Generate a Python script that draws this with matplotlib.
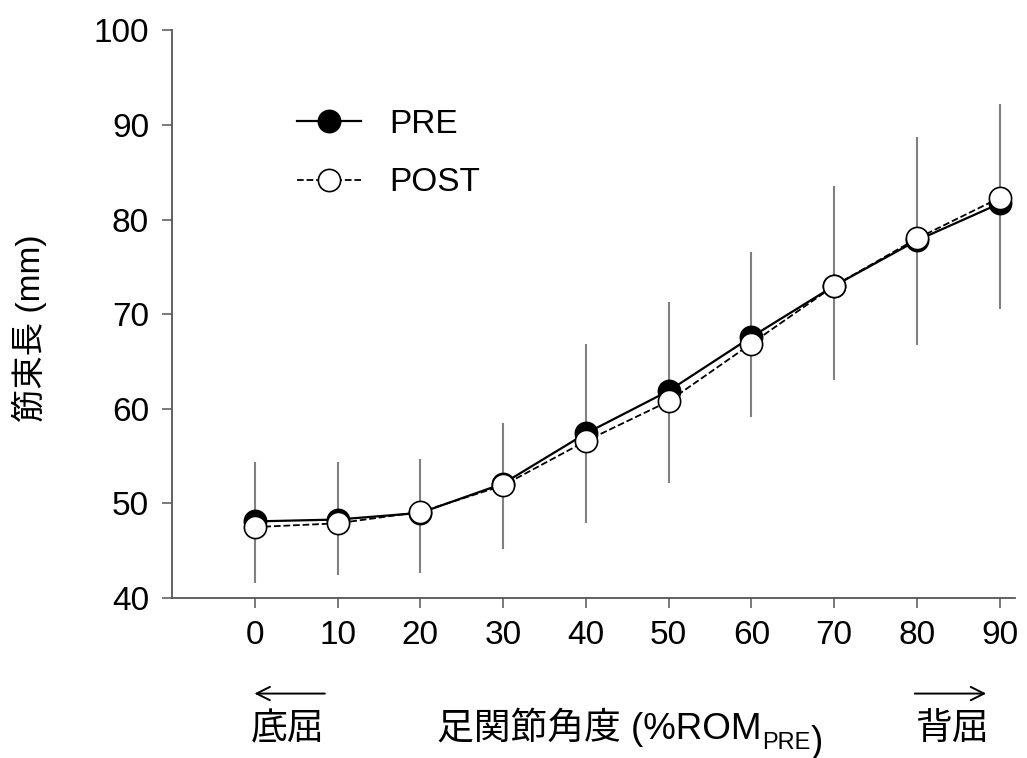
import matplotlib
matplotlib.use("Agg")
import matplotlib.pyplot as plt
from matplotlib.patches import FancyArrowPatch
from matplotlib.text import Annotation

plt.rcParams['font.family'] = ['Liberation Sans', 'Noto Sans CJK JP']

# data
angle = [0, 10, 20, 30, 40, 50, 60, 70, 80, 90]
pre = [48.1, 48.3, 49.0, 52.1, 57.4, 61.9, 67.6, 73.0, 77.8, 81.7]
post = [47.5, 47.9, 49.1, 51.9, 56.6, 60.8, 66.9, 73.0, 78.0, 82.3]
err_low = [41.6, 42.4, 42.7, 45.2, 47.9, 52.2, 59.1, 63.0, 66.7, 70.5]
err_high = [54.4, 54.4, 54.7, 58.5, 66.8, 71.3, 76.6, 83.6, 88.7, 92.2]

yticks = [40, 50, 60, 70, 80, 90, 100]

fig = plt.figure(figsize=(10.27, 7.58), dpi=100)
ax = fig.add_axes([0.1675, 0.211, 0.8205, 0.749])

ax.vlines(angle, err_low, err_high, color='#808080', lw=1.5, zorder=1)
ax.plot(angle, pre, '-', color='black', lw=1.6, marker='o', ms=16,
        mfc='black', mec='black', mew=1.2, zorder=3, label='PRE')
ax.plot(angle, post, '--', color='black', lw=1.3, marker='o', ms=16,
        mfc='white', mec='black', mew=1.2, zorder=4, label='POST')

ax.set_xlim(-10, 91.8)
ax.set_ylim(40, 100)
ax.set_xticks(angle)
ax.set_yticks(yticks)
ax.tick_params(labelsize=24, length=7, width=1.1, color='#555555', pad=9.5)
ax.tick_params(axis='x', pad=9)
for s in ['top', 'right']:
    ax.spines[s].set_visible(False)
for s in ['left', 'bottom']:
    ax.spines[s].set_color('#555555')
    ax.spines[s].set_linewidth(1.3)

ax.legend(loc='upper left', bbox_to_anchor=(0.113, 0.914), frameon=False,
          fontsize=24, handlelength=1.92, handletextpad=0.84, labelspacing=0.82)

# axis labels
fig.text(0.029, 0.567, '筋束長 (mm)', rotation=90, ha='center', va='center', fontsize=24)
t1 = fig.text(0.4255, 0.025, '足関節角度 (%ROM', ha='left', va='baseline', fontsize=26.5)
t2 = fig.add_artist(Annotation('PRE', xy=(1, 0), xycoords=t1, xytext=(0.5, -1.5),
                               textcoords='offset points', ha='left', va='baseline',
                               fontsize=17))
fig.add_artist(Annotation(')', xy=(1, 0), xycoords=t2, xytext=(0, 1.5),
                          textcoords='offset points', ha='left', va='baseline',
                          fontsize=26.5))
fig.text(0.2805, 0.025, '底屈', ha='center', va='baseline', fontsize=26.5)
fig.text(0.927, 0.025, '背屈', ha='center', va='baseline', fontsize=26.5)

# direction arrows
arrow = dict(arrowstyle='->', color='black', lw=1.4, mutation_scale=24)
fig.patches.append(FancyArrowPatch((0.319, 0.085), (0.245, 0.085),
                                   transform=fig.transFigure, **arrow))
fig.patches.append(FancyArrowPatch((0.888, 0.085), (0.963, 0.085),
                                   transform=fig.transFigure, **arrow))

fig.savefig('out.png', dpi=100)
